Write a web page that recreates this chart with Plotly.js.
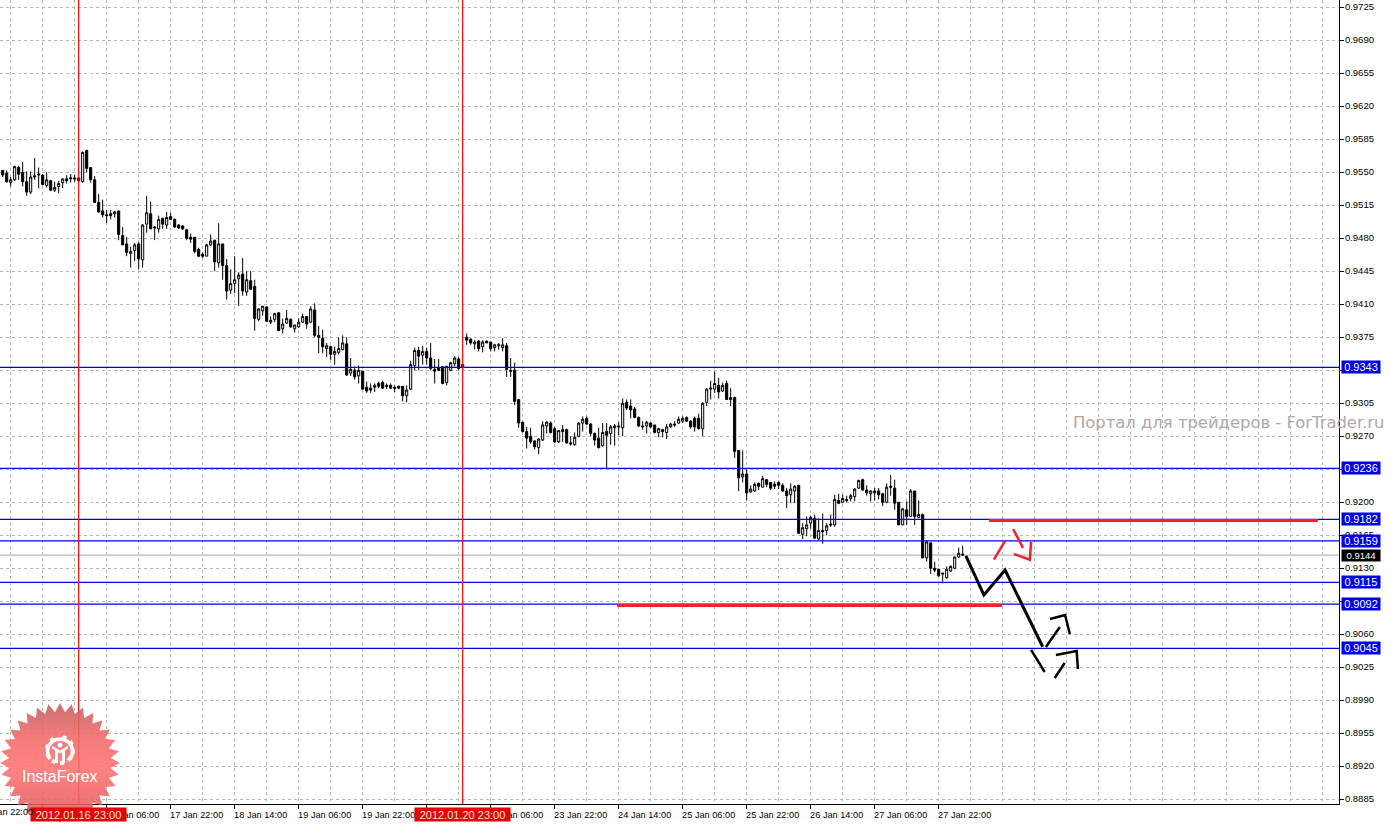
<!DOCTYPE html>
<html><head><meta charset="utf-8">
<script src="https://cdn.plot.ly/plotly-3.0.1.min.js"></script>
<style>html,body{margin:0;padding:0;background:#fff}#c{width:1390px;height:824px}</style>
</head><body><div id="c"></div>
<script>
// Prices in pips (value / 10000), one hourly bar per entry
const opens=[9552,9549,9539,9542,9555,9550,9540,9529,9545,9547,
9547,9536,9541,9531,9535,9539,9543,9543,9544,9544,
9540,9573,9555,9542,9518,9509,9505,9506,9506,9509,
9483,9474,9464,9467,9474,9457,9495,9506,9492,9490,
9501,9494,9503,9500,9494,9493,9489,9481,9481,9468,
9463,9461,9473,9478,9454,9474,9451,9425,9432,9437,
9442,9423,9435,9429,9394,9403,9407,9391,9394,9401,
9384,9390,9394,9384,9386,9391,9397,9391,9404,9377,
9374,9363,9365,9357,9359,9362,9368,9337,9340,9334,
9339,9322,9321,9322,9326,9327,9324,9324,9322,9323,
9323,9313,9320,9345,9361,9356,9360,9353,9341,9343,
9344,9327,9340,9347,9352,9346,9375,9373,9368,9371,
9365,9371,9370,9364,9366,9364,9366,9340,9340,9309,
9285,9275,9270,9265,9258,9266,9281,9284,9278,9264,
9277,9277,9263,9261,9270,9284,9289,9283,9273,9268,
9260,9275,9273,9279,9281,9279,9306,9302,9299,9290,
9281,9281,9284,9282,9274,9277,9274,9280,9283,9284,
9286,9290,9286,9289,9289,9278,9306,9320,9320,9324,
9318,9326,9311,9311,9255,9227,9230,9211,9212,9220,
9216,9224,9221,9219,9221,9218,9212,9208,9212,9218,
9166,9172,9178,9183,9161,9170,9170,9177,9176,9202,
9200,9203,9204,9206,9215,9224,9213,9209,9212,9212,
9209,9200,9217,9215,9200,9176,9192,9185,9212,9184,
9187,9141,9157,9130,9129,9125,9120,9127,9130,9142,9145];
const highs=[9552,9552,9545,9557,9557,9561,9551,9551,9565,9555,
9548,9550,9542,9540,9541,9543,9547,9548,9547,9544,
9572,9574,9555,9546,9527,9521,9510,9510,9509,9509,
9492,9481,9471,9475,9476,9495,9525,9519,9493,9504,
9502,9508,9507,9501,9495,9494,9490,9485,9481,9470,
9465,9474,9484,9478,9496,9474,9458,9447,9461,9444,
9459,9445,9445,9436,9406,9408,9408,9397,9401,9401,
9395,9404,9395,9388,9395,9400,9397,9408,9411,9387,
9383,9369,9366,9365,9375,9377,9375,9353,9344,9345,
9339,9328,9326,9326,9328,9329,9326,9326,9324,9324,
9323,9324,9350,9364,9365,9366,9364,9369,9352,9352,
9344,9345,9349,9355,9354,9346,9379,9374,9372,9372,
9372,9371,9370,9368,9369,9374,9369,9353,9348,9309,
9285,9280,9279,9266,9268,9286,9286,9286,9280,9276,
9282,9278,9270,9274,9285,9291,9291,9284,9274,9279,
9284,9284,9282,9283,9285,9310,9309,9309,9301,9291,
9286,9286,9285,9282,9279,9278,9283,9284,9286,9291,
9291,9291,9287,9291,9294,9306,9321,9329,9339,9332,
9327,9329,9321,9312,9255,9255,9236,9218,9221,9221,
9228,9224,9221,9222,9222,9220,9215,9220,9218,9218,
9178,9185,9186,9187,9183,9188,9178,9187,9208,9209,
9208,9207,9209,9215,9224,9225,9218,9213,9215,9215,
9210,9220,9229,9224,9200,9194,9201,9214,9212,9202,
9188,9160,9157,9137,9129,9125,9132,9133,9142,9152,9154];
const lows=[9545,9539,9535,9541,9542,9535,9525,9527,9542,9533,
9536,9534,9530,9529,9528,9533,9538,9539,9540,9540,
9539,9550,9539,9518,9507,9502,9496,9500,9502,9478,
9473,9461,9449,9456,9447,9449,9486,9490,9478,9486,
9490,9490,9500,9491,9490,9489,9478,9475,9464,9460,
9459,9461,9472,9445,9449,9436,9415,9421,9422,9408,
9419,9419,9425,9382,9392,9398,9391,9389,9391,9382,
9379,9389,9385,9380,9385,9390,9384,9390,9375,9358,
9358,9354,9351,9346,9357,9361,9334,9334,9330,9326,
9320,9316,9316,9317,9321,9320,9320,9320,9317,9320,
9307,9306,9319,9340,9340,9346,9346,9340,9326,9339,
9325,9324,9339,9344,9340,9341,9367,9367,9362,9360,
9359,9369,9360,9360,9362,9360,9333,9333,9303,9279,
9274,9257,9262,9256,9251,9265,9273,9273,9263,9263,
9264,9262,9260,9260,9269,9275,9282,9270,9260,9257,
9259,9235,9261,9260,9271,9270,9298,9289,9289,9280,
9277,9273,9279,9273,9269,9269,9267,9279,9280,9283,
9284,9285,9278,9275,9277,9270,9302,9309,9316,9310,
9317,9309,9302,9247,9212,9221,9202,9210,9211,9213,
9216,9216,9213,9214,9214,9211,9194,9199,9199,9167,
9161,9164,9172,9161,9160,9156,9165,9174,9174,9198,
9199,9200,9201,9201,9214,9212,9207,9201,9202,9203,
9196,9199,9207,9192,9176,9176,9176,9185,9176,9183,
9141,9137,9124,9126,9121,9114,9119,9126,9129,9141,9143];
const closes=[9547,9540,9542,9556,9548,9540,9529,9545,9546,9548,
9537,9542,9531,9534,9538,9543,9541,9544,9543,9541,
9571,9554,9542,9518,9508,9505,9504,9504,9508,9484,
9473,9465,9466,9473,9458,9494,9507,9490,9491,9500,
9495,9502,9500,9492,9491,9490,9480,9479,9466,9461,
9461,9473,9477,9455,9474,9451,9424,9432,9436,9441,
9424,9436,9426,9395,9405,9408,9392,9393,9400,9382,
9389,9395,9386,9388,9391,9397,9389,9405,9377,9375,
9365,9366,9357,9360,9363,9369,9335,9341,9333,9340,
9320,9318,9319,9324,9323,9321,9323,9321,9321,9321,
9313,9319,9346,9361,9355,9360,9353,9342,9339,9340,
9326,9344,9348,9353,9342,9343,9372,9369,9370,9363,
9370,9369,9363,9367,9367,9367,9341,9339,9307,9284,
9275,9268,9264,9259,9267,9282,9285,9274,9264,9276,
9275,9263,9262,9269,9284,9288,9283,9273,9266,9258,
9274,9271,9280,9281,9280,9305,9300,9298,9290,9281,
9280,9285,9280,9274,9278,9275,9280,9283,9282,9288,
9289,9286,9280,9280,9278,9305,9320,9321,9326,9317,
9324,9309,9309,9254,9226,9230,9210,9214,9219,9217,
9225,9219,9215,9217,9218,9212,9207,9214,9217,9167,
9173,9176,9184,9162,9170,9169,9175,9176,9203,9199,
9204,9202,9207,9214,9223,9213,9210,9212,9210,9208,
9200,9216,9216,9199,9176,9193,9185,9212,9185,9187,
9141,9158,9130,9128,9122,9124,9129,9132,9142,9146,9144];

const timeTickBars=[10,26,42,58,74,90,106,122,138,154,170,186,202,218,234];
const timeTickLabels=["16 Jan 14:00","17 Jan 06:00","17 Jan 22:00","18 Jan 14:00","19 Jan 06:00","19 Jan 22:00","20 Jan 14:00","23 Jan 06:00","23 Jan 22:00","24 Jan 14:00","25 Jan 06:00","25 Jan 22:00","26 Jan 14:00","27 Jan 06:00","27 Jan 22:00"];
const levels=[9343,9236,9182,9159,9115,9092,9045];
const currentPrice=9144;
const markerBars=[19,115];
const markerLabels=["2012.01.16 23:00","2012.01.20 23:00"];

// Hand-drawn strokes: [bar index], [price in pips]
const redLevelA={x:[246.6,328.8],y:[9180.7,9180.7]};
const redLevelB={x:[153.6,249.8],y:[9090.6,9090.6]};
const blackMain={x:[240.8,245.3,250.6,260],y:[9143.1,9101.7,9128.2,9046.8]};
const blackStrokes=[
 {x:[260.8,264.3],y:[9046.5,9067.7]},
 {x:[261.8,265.6,266.8],y:[9076.2,9080.5,9060.3]},
 {x:[257.1,260.5],y:[9043.4,9020]},
 {x:[263,265.5],y:[9013.6,9029.6]},
 {x:[263.3,268.5,268.8],y:[9038.1,9042.3,9023.2]}];
const redStrokes=[
 {x:[247.8,250.6],y:[9139.1,9159]},
 {x:[252.6,255.1],y:[9171.7,9151.6]},
 {x:[252.8,256.8,257.1],y:[9145.2,9139.1,9157.9]}];

const P=v=>v/10000;
const PW=1339, PH=804;
const px=v=>v/PW, py=v=>(PH-v)/PH;
const FONT='"Liberation Sans", Arial, sans-serif';
const XR=[-0.667,334.08], YR=[0.88800,0.97327];
const idx=opens.map((_,i)=>i);
const stroke=(s,color,w)=>({type:'scatter',mode:'lines',x:s.x,y:s.y.map(P),hoverinfo:'skip',showlegend:false,
  line:{color:color,width:w,shape:'linear'}});

const traces=[{
 type:'candlestick',x:idx,open:opens.map(P),high:highs.map(P),low:lows.map(P),close:closes.map(P),
 hoverinfo:'skip',showlegend:false,whiskerwidth:0,
 increasing:{line:{color:'#000',width:1},fillcolor:'#fff'},
 decreasing:{line:{color:'#000',width:1},fillcolor:'#000'}
}]
 .concat(levels.map(l=>stroke({x:XR,y:[l,l]},'#0000e6',1.25)))
 .concat(markerBars.map(b=>({type:'scatter',mode:'lines',x:[b,b],y:YR,hoverinfo:'skip',showlegend:false,line:{color:'#ff0000',width:1.2}})))
 .concat([stroke(redLevelA,'#ee2233',3),stroke(redLevelB,'#ee2233',3),stroke(blackMain,'#000',3)])
 .concat(blackStrokes.map(s=>stroke(s,'#000',2.5))).concat(redStrokes.map(s=>stroke(s,'#ee2233',2.5)));

const shapes=[{type:'line',xref:'paper',x0:0,x1:1,yref:'y',y0:P(currentPrice),y1:P(currentPrice),line:{color:'#a8a8a8',width:1},layer:'below'}];

const annotations=[];
levels.forEach(l=>annotations.push({xref:'paper',yref:'y',x:px(1341),y:P(l),xanchor:'left',yanchor:'middle',showarrow:false,
  text:(l/10000).toFixed(4),width:38,height:12,borderpad:0,bgcolor:'#0000e6',align:'center',valign:'middle',font:{family:FONT,size:11,color:'#fff'}}));
annotations.push({xref:'paper',yref:'y',x:px(1341),y:P(currentPrice),xanchor:'left',yanchor:'middle',showarrow:false,
  text:(currentPrice/10000).toFixed(4),width:38,height:11,borderpad:0,bgcolor:'#000',align:'center',valign:'middle',font:{family:FONT,size:9.5,color:'#fff'}});
markerBars.forEach((b,i)=>annotations.push({xref:'x',yref:'paper',x:b,y:py(814.5),xanchor:'center',yanchor:'middle',showarrow:false,
  text:markerLabels[i],width:95,height:13,borderpad:0,bgcolor:'#e60000',align:'center',valign:'middle',font:{family:FONT,size:11,color:'#fbe4e4'}}));
annotations.push({xref:'paper',yref:'paper',x:px(-22),y:py(811.5),xanchor:'left',yanchor:'middle',showarrow:false,text:'15 Jan 22:00',font:{family:FONT,size:9.2,color:'#000'}});
annotations.push({xref:'paper',yref:'paper',x:px(1229),y:py(422.5),xanchor:'center',yanchor:'middle',showarrow:false,
  text:'Портал для трейдеров - ForTrader.ru',font:{family:'"DejaVu Sans", sans-serif',size:16.4,color:'#b0a8a8'}});
annotations.push({xref:'paper',yref:'paper',x:px(59.5),y:py(776.5),xanchor:'center',yanchor:'middle',showarrow:false,
  text:'InstaForex',font:{family:FONT,size:16,color:'#fff'}});

// InstaForex badge
let pts=[];const N=32;
for(let i=0;i<N*2;i++){const r=i%2?51:60,a=Math.PI*i/N-Math.PI/2;pts.push((60+r*Math.cos(a)).toFixed(1)+','+(60+r*Math.sin(a)).toFixed(1));}
let cog='';
for(let i=0;i<9;i++){const a=20+340*i/9;cog+=`<rect x="58" y="32" width="4" height="4" fill="#fff" transform="rotate(${a} 60 47)"/>`;}
const svg=`<svg xmlns="http://www.w3.org/2000/svg" width="120" height="120" viewBox="0 0 120 120"><defs><linearGradient id="g" x1="0" y1="0" x2="0" y2="1"><stop offset="0" stop-color="#c45c5c"/><stop offset="0.3" stop-color="#f46a6a"/><stop offset="0.55" stop-color="#ff7272"/><stop offset="0.85" stop-color="#e86060"/><stop offset="1" stop-color="#b84040"/></linearGradient></defs><polygon points="${pts.join(' ')}" fill="url(#g)" fill-opacity="0.88"/>${cog}<path d="M50 56 A12.5 12.5 0 1 1 70 56" fill="none" stroke="#fff" stroke-width="3.5"/><rect x="55" y="46" width="3" height="14" fill="#fff"/><rect x="62" y="46" width="3" height="14" fill="#fff"/><path d="M52 44 L60 49 L68 44" fill="none" stroke="#fff" stroke-width="2.5"/><circle cx="60" cy="42" r="2.5" fill="#fff"/></svg>`;
const images=[{source:'data:image/svg+xml;charset=utf-8,'+encodeURIComponent(svg),xref:'paper',yref:'paper',x:px(0),y:py(703),sizex:120/PW,sizey:120/PH,sizing:'stretch',xanchor:'left',yanchor:'top',layer:'above'}];

const gridColor='#aebcae', dash='3px,3px';
const layout={
 width:1390,height:824,autosize:false,
 margin:{l:0,r:51,t:0,b:20,pad:0},
 paper_bgcolor:'#fff',plot_bgcolor:'#fff',showlegend:false,boxgap:0.25,
 xaxis:{type:'linear',range:XR,autorange:false,rangeslider:{visible:false},fixedrange:true,
  tickmode:'array',tickvals:timeTickBars,ticktext:timeTickLabels,ticks:'outside',ticklen:4,tickcolor:'#000',tickwidth:1,tickangle:0,
  ticklabelshift:26,ticklabelstandoff:-2,tickfont:{family:FONT,size:9.2,color:'#000'},
  showline:true,linecolor:'#000',linewidth:1,zeroline:false,
  showgrid:true,gridcolor:gridColor,griddash:dash,gridwidth:1,
  minor:{tickmode:'linear',tick0:2,dtick:8,showgrid:true,gridcolor:gridColor,griddash:dash,gridwidth:1,ticks:''}},
 yaxis:{side:'right',type:'linear',range:YR,autorange:false,fixedrange:true,
  tickmode:'linear',tick0:0.8885,dtick:0.0035,tickformat:'.4f',ticks:'outside',ticklen:4,tickcolor:'#000',tickwidth:1,
  ticklabelstandoff:-1,ticklabelshift:-1,tickfont:{family:FONT,size:9.5,color:'#000'},
  showline:true,linecolor:'#000',linewidth:1,zeroline:false,
  showgrid:true,gridcolor:gridColor,griddash:dash,gridwidth:1},
 shapes:shapes,annotations:annotations,images:images
};
Plotly.newPlot('c',traces,layout,{staticPlot:true,displayModeBar:false});
</script></body></html>
